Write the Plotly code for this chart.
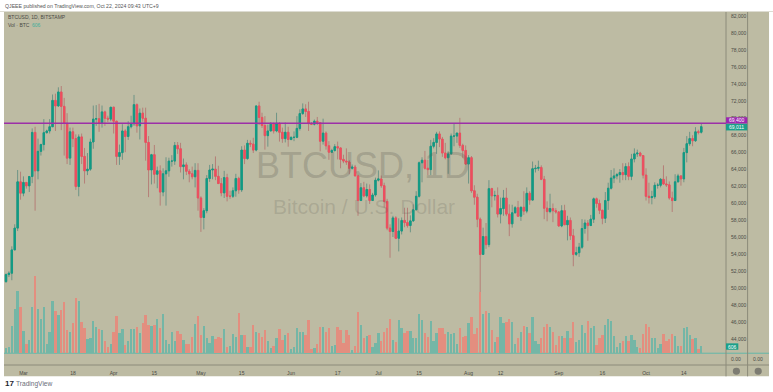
import pandas as pd
import plotly.graph_objects as go

first_date = "2024-02-24"
opens = [50740,51570,51730,54480,57050,62500,61170,62430,62030,63130,68330,63800,66100,66900,68300,68500,69000,72100,71450,73100,
71400,69400,65300,68400,67600,61950,67800,65500,63800,64000,67200,69900,69950,69450,70750,70000,69900,71300,69650,65500,
65950,68500,67850,69000,69350,71600,69100,70600,70000,67150,63900,65700,63400,63800,61300,63450,63800,64950,64950,66800,
66400,64300,64500,63750,63450,63100,63850,60600,58300,59100,62900,63900,64000,63150,62300,61200,63000,60800,60800,61450,
62900,61550,66250,65250,67050,66950,66250,71450,70100,69150,67950,68500,69300,68500,69400,68350,67600,68350,67500,67750,
67750,68800,70550,71100,70800,69350,69300,69650,69500,67300,68250,66750,66000,66200,66650,66500,65150,64950,64850,64100,
64250,63200,60300,61800,60850,61600,60300,60950,62700,62850,62050,60200,57050,56650,58250,55850,56700,57950,57700,57350,
57900,59200,60800,64750,65050,64100,63950,66700,67150,68150,67550,65900,65350,65800,67900,67900,68250,66800,66200,64600,
65350,61450,60700,58100,53950,56050,55100,61700,60850,60900,58700,59350,60600,58700,57550,58850,59450,58450,59500,59050,
61150,60350,64050,64100,64200,62800,59400,59000,59350,59100,58950,57300,59100,57450,57950,56150,53950,54150,54800,57000,
57650,57350,58100,60500,59950,59150,58200,60300,61750,62950,63200,63350,63600,63350,64300,63150,65200,65800,65900,65600,
63300,60800,60650,60750,62100,62100,62800,62250,62150,60600,60300,62500,63200,62850,65950,67000,67600,67350,68400,68350]
highs = [51700,51950,54900,57500,63900,63700,63150,62450,63200,68800,69000,67600,67000,69900,68650,69900,72800,72900,73650,73800,
72400,70600,68900,68900,68100,68100,68200,66500,65900,67600,71500,71550,71700,71500,70900,70300,71300,71350,69700,66900,
69300,68700,69650,70300,72750,71750,71150,71250,71250,67900,65800,66850,64300,64450,64100,65400,65350,65650,67200,67200,
67100,65250,64800,64000,64300,64700,64700,60800,59400,63300,64500,64600,65500,64400,62950,63800,63450,61450,61850,63450,
63100,66700,66800,67450,67400,67700,71500,71950,70650,70250,69250,69550,69500,70650,69550,68900,69500,69000,67850,68450,
70250,71050,71750,71650,71950,69550,69850,70150,69550,69950,68450,67300,66400,66950,67250,66550,65700,66450,65050,64550,
64500,63350,62350,62500,62300,62200,61200,63000,63850,63250,62400,60500,57500,58500,58450,58200,58300,59450,59450,58550,
59850,61400,64900,65400,66150,65100,67450,67650,68400,68450,67800,67100,66100,68200,69400,68300,70050,67000,66800,65650,
65550,62100,61100,58300,57100,57650,62700,61800,61450,61850,60650,61550,61800,59850,59800,59650,60250,59600,61400,61850,
61400,64900,64500,65000,64450,63200,60200,61100,59950,59400,59050,59750,59800,58500,58300,56950,54850,55300,58100,58050,
58000,58600,60650,60650,60400,59200,61300,62400,63900,64100,63550,64000,64700,64700,64800,65800,66450,66300,66050,65650,
64100,62400,61450,62450,62350,62950,64450,63150,62550,61350,63400,63450,63300,66500,67900,68400,68000,68950,68650,69400]
lows = [50600,51280,50900,54450,56700,60400,60800,61700,61300,62350,59100,62800,65600,66200,68200,68200,69000,68500,71350,68600,
65600,64600,64500,66600,61550,60800,64600,62300,63300,63800,66400,69100,68400,68900,69100,69550,69650,68200,64500,64500,
65100,66000,67450,68800,69100,68300,67500,69600,65000,60700,62200,62300,61750,59700,60800,59700,63100,64300,64500,65800,
63600,62800,63300,62450,62800,61850,59100,56600,56900,58800,62500,62800,62700,62300,60800,60600,60200,60500,60600,60750,
61100,61300,64600,65100,66600,65900,66100,69200,68850,66300,66650,68500,68200,68350,67250,67100,67150,66650,67400,67300,
67650,68550,70400,70150,68500,69200,69150,69200,66100,66900,66300,65100,65900,66050,65150,64100,64700,64500,63400,63950,
63200,58500,60250,60700,60650,59900,60300,60750,62550,61800,59450,56800,53550,56000,55750,54300,56300,57150,57100,56550,
57800,59200,60650,62450,63950,63300,63300,66450,65800,66600,65450,65150,63450,65700,66700,67100,66500,65300,64500,62300,
61200,59800,57150,49000,53950,54600,54800,59500,60300,58300,57600,58500,58450,56100,57100,58800,58400,57900,58600,58800,
59800,60350,63600,63800,62700,58100,57850,58800,57750,58750,57200,57150,57400,55600,55650,52550,53750,53650,54600,56400,
55550,57300,57650,59450,58700,57500,57650,59200,61600,62350,62800,62400,62700,62700,62700,62700,64800,65450,65450,62900,
60300,59950,59850,60500,61700,61850,62150,61900,60400,58950,60250,62450,62050,62450,64800,66750,66700,67200,68100,68200]
closes = [51570,51730,54480,57050,62500,61170,62430,62030,63130,68330,63800,66100,66900,68300,68500,69000,72100,71450,73100,71400,
69400,65300,68400,67600,61950,67800,65500,63800,64000,67200,69900,69950,69450,70750,70000,69900,71300,69650,65500,65950,
68500,67850,69000,69350,71600,69100,70600,70000,67150,63900,65700,63400,63800,61300,63450,63800,64950,64950,66800,66400,
64300,64500,63750,63450,63100,63850,60600,58300,59100,62900,63900,64000,63150,62300,61200,63000,60800,60800,61450,62900,
61550,66250,65250,67050,66950,66250,71450,70100,69150,67950,68500,69300,68500,69400,68350,67600,68350,67500,67750,67750,
68800,70550,71100,70800,69350,69300,69650,69500,67300,68250,66750,66000,66200,66650,66500,65150,64950,64850,64100,64250,
63200,60300,61800,60850,61600,60300,60950,62700,62850,62050,60200,57050,56650,58250,55850,56700,57950,57700,57350,57900,
59200,60800,64750,65050,64100,63950,66700,67150,68150,67550,65900,65350,65800,67900,67900,68250,66800,66200,64600,65350,
61450,60700,58100,53950,56050,55100,61700,60850,60900,58700,59350,60600,58700,57550,58850,59450,58450,59500,59050,61150,
60350,64050,64100,64200,62800,59400,59000,59350,59100,58950,57300,59100,57450,57950,56150,53950,54150,54800,57000,57650,
57350,58100,60500,59950,59150,58200,60300,61750,62950,63200,63350,63600,63350,64300,63150,65200,65800,65900,65600,63300,
60800,60650,60750,62100,62100,62800,62250,62150,60600,60300,62500,63200,62850,65950,67000,67600,67350,68400,68350,69011]
# volume bars
volume_readings = [17,19,82,132,187,139,67,29,40,139,232,133,103,139,28,64,157,127,115,130,154,70,64,91,166,157,94,76,42,45,
97,79,73,69,38,19,29,64,111,60,73,25,37,72,73,79,61,91,115,85,82,85,102,75,118,39,28,64,38,67,58,40,28,28,48,87,111,55,82,45,
31,52,44,48,45,72,19,22,58,49,120,56,55,19,19,85,63,62,49,69,38,17,21,45,73,41,56,60,14,18,76,65,65,54,100,14,16,28,78,78,
64,76,23,25,78,70,31,70,54,11,22,125,85,45,52,56,19,31,61,37,65,76,102,39,34,100,76,60,67,67,45,47,118,100,60,49,98,38,60,75,
76,58,65,58,60,28,75,50,53,91,109,58,76,185,118,126,121,70,33,49,109,90,95,102,93,29,45,65,82,79,61,109,38,29,46,80,88,79,65,
25,52,52,46,67,47,93,34,40,85,60,96,76,82,24,45,54,85,102,97,52,19,31,37,52,38,56,40,19,17,57,89,78,46,45,16,28,58,36,43,58,
52,22,22,76,79,55,43,46,14,21]
volume_unit = 27.5
volumes = [v * volume_unit for v in volume_readings]
tick_dates = ["2024-03-01","2024-03-18","2024-04-01","2024-04-15","2024-05-01","2024-05-15","2024-06-01","2024-06-17",
              "2024-07-01","2024-07-15","2024-08-01","2024-08-12","2024-09-01","2024-09-16","2024-10-01","2024-10-14"]
tick_labels = ["Mar","18","Apr","15","May","15","Jun","17","Jul","15","Aug","12","Sep","16","Oct","14"]
price_ticks = list(range(44000, 82001, 2000))
level_price = 69400
last_price = 69011
last_volume = "606"

assert len({len(opens),len(highs),len(lows),len(closes),len(volumes)})==1, (len(opens),len(highs),len(lows),len(closes),len(volumes))
dates = pd.date_range(first_date, periods=len(closes), freq="D")

W, H = 773, 392
L, R, T, B = 4, 725.7, 11.5, 365.3
BG = "#BDBBA3"
AXIS = "#8C8B7A"
UP, DOWN = "#119B84", "#EE4E5F"
def px(x): return (x - L) / (R - L)
def py(y): return (B - y) / (B - T)

vol_colors = ["#74B6A6" if c >= o else "#E38E7F" for o, c in zip(opens, closes)]
body_hi = [max(o, c) for o, c in zip(opens, closes)]
body_lo = [min(o, c) for o, c in zip(opens, closes)]

fig = go.Figure()
fig.add_bar(x=dates, y=volumes, yaxis="y2", marker=dict(color=vol_colors, line_width=0), width=0.8*86400000)
fig.add_candlestick(x=dates, open=opens, high=highs, low=lows, close=closes,
    increasing=dict(line=dict(color="#6E9486", width=1), fillcolor=UP),
    decreasing=dict(line=dict(color="#B57F78", width=1), fillcolor=DOWN))
fig.add_candlestick(x=dates, open=opens, high=body_hi, low=body_lo, close=closes,
    increasing=dict(line=dict(color=UP, width=0.9), fillcolor=UP),
    decreasing=dict(line=dict(color=DOWN, width=0.9), fillcolor=DOWN))

shapes = [
    dict(type="rect", xref="paper", yref="paper", x0=px(L), x1=px(768.7), y0=py(376.7), y1=py(T), fillcolor=BG, line_width=0, layer="below"),
    dict(type="rect", xref="paper", yref="paper", x0=px(0), x1=px(W), y0=py(T-1), y1=py(T), fillcolor="#DDDCD2", line_width=0, layer="below"),
    dict(type="line", xref="paper", yref="paper", x0=px(R), x1=px(R), y0=py(376.7), y1=py(T), line=dict(color=AXIS, width=1)),
    dict(type="line", xref="paper", yref="paper", x0=px(747.3), x1=px(747.3), y0=py(376.7), y1=py(T), line=dict(color=AXIS, width=1)),
    dict(type="line", xref="paper", yref="paper", x0=px(L), x1=px(768.7), y0=py(B), y1=py(B), line=dict(color=AXIS, width=1)),
    dict(type="line", xref="paper", yref="y2", x0=px(L), x1=px(768.7), y0=0, y1=0, line=dict(color="#63B8A9", width=1), layer="below"),
    dict(type="line", xref="paper", yref="y", x0=0, x1=1, y0=level_price, y1=level_price, line=dict(color="#9C2FA8", width=1.5)),
    dict(type="rect", xref="paper", yref="paper", x0=px(R), x1=px(747), y0=py(123.4), y1=py(117), fillcolor="#9C27B0", line_width=0),
    dict(type="rect", xref="paper", yref="paper", x0=px(R), x1=px(747), y0=py(130.2), y1=py(123.6), fillcolor="#1AA08A", line_width=0),
    dict(type="rect", xref="paper", yref="paper", x0=px(R), x1=px(738), y0=py(350), y1=py(343.6), fillcolor="#1AA08A", line_width=0),
    dict(type="circle", xref="paper", yref="paper", x0=px(732.5), x1=px(739.7), y0=py(375), y1=py(368), fillcolor="#7D7C72", line_width=0),
    dict(type="circle", xref="paper", yref="paper", x0=px(754.3), x1=px(761.5), y0=py(375), y1=py(368), fillcolor="#7D7C72", line_width=0),
]

def note(x, y, text, size, color, xanchor="left", family="Liberation Sans"):
    return dict(xref="paper", yref="paper", x=px(x), y=py(y), text=text, showarrow=False, xanchor=xanchor, yanchor="middle",
                font=dict(size=size, color=color, family=family), borderpad=0)

annotations = [
    note(4, 5.8, "QJEEE published on TradingView.com, Oct 22, 2024 09:43 UTC+9", 5.2, "#555555"),
    note(7, 17, "BTCUSD, 1D, BITSTAMP", 5, "#4A4A44"),
    note(7, 25, "Vol · BTC", 5, "#4A4A44"),
    note(31, 25, last_volume, 5, "#3FAF9C"),
    note(363, 165, "BTCUSD, 1D", 36, "rgba(90,90,82,0.27)", "center"),
    note(364, 206, "Bitcoin / U.S. Dollar", 21, "rgba(90,90,82,0.2)", "center"),
    note(736.5, 120.2, f"{level_price:,}", 5, "#FFFFFF", "center"),
    note(736.5, 127, f"{last_price:,}", 5, "#FFFFFF", "center"),
    note(732, 346.9, last_volume, 5, "#FFFFFF", "center"),
    note(736, 359.5, "0.00", 5, "#4A4A44", "center"),
    note(757.5, 359.5, "0.00", 5, "#4A4A44", "center"),
    note(4, 384, "<b>17</b>", 8, "#1E2430"),
    note(15, 384, "TradingView", 6.6, "#6A6D78"),
]

fig.update_layout(
    width=W, height=H, autosize=False,
    margin=dict(l=L, r=W-R, t=T, b=H-B, pad=0),
    paper_bgcolor="#FFFFFF", plot_bgcolor="rgba(0,0,0,0)",
    showlegend=False, shapes=shapes, annotations=annotations, bargap=0,
    xaxis=dict(type="date", range=["2024-02-23 07:30", "2024-10-28 11:45"], rangeslider_visible=False,
               tickmode="array", tickvals=tick_dates, ticktext=tick_labels, showgrid=False, zeroline=False,
               ticks="", tickfont=dict(size=5, color="#4A4A44", family="Liberation Sans"), ticklabelstandoff=4),
    yaxis=dict(range=[40906, 82529], side="right", tickmode="array", tickvals=price_ticks, tickformat=",",
               showgrid=False, zeroline=False, ticks="", tickfont=dict(size=5, color="#4A4A44", family="Liberation Sans"),
               ticklabelstandoff=4),
    yaxis2=dict(range=[-973.5, 28215], overlaying="y", side="left", visible=False, showgrid=False, zeroline=False),
)
fig.write_html("out.html", config=dict(displayModeBar=False),
               post_script="document.body.style.margin='0';document.documentElement.style.overflow='hidden';")
